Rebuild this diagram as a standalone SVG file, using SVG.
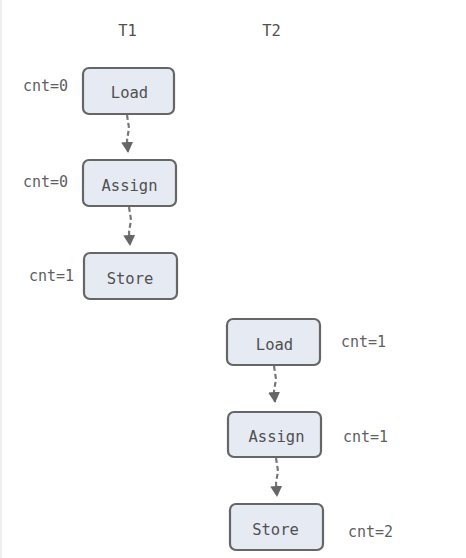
<svg xmlns="http://www.w3.org/2000/svg" width="466" height="558" viewBox="0 0 466 558">
<style>
.box{fill:#e6eaf3;stroke:#666;stroke-width:2.2;filter:url(#sk)}
.lbl{font-family:"DejaVu Sans Mono","Liberation Mono",monospace;font-size:15.5px;fill:#505050}
.cnt{font-family:"DejaVu Sans Mono","Liberation Mono",monospace;font-size:15px;fill:#606060}
.ln{fill:none;stroke:#777;stroke-width:2.2;stroke-dasharray:5 3}
.ah{fill:#666}
</style>
<defs>
<filter id="sk" x="-5%" y="-10%" width="110%" height="120%">
<feTurbulence type="fractalNoise" baseFrequency="0.05" numOctaves="2" seed="3"/>
<feDisplacementMap in="SourceGraphic" scale="1.4" xChannelSelector="R" yChannelSelector="G"/>
</filter>
<marker id="arr" markerWidth="14" markerHeight="14" refX="10" refY="6" orient="auto" markerUnits="userSpaceOnUse">
<path d="M0,0 L11,6 L0,12 Z" class="ah"/>
</marker>
</defs>
<rect x="0" y="0" width="2" height="558" fill="#efefef"/>
<g id="headers">
<text class="lbl" x="127.5" y="36" text-anchor="middle">T1</text>
<text class="lbl" x="271.5" y="36" text-anchor="middle">T2</text>
</g>
<g id="connectors">
<path class="ln" d="M127,115 L129,128 L127,140 L128,152" marker-end="url(#arr)"/>
<path class="ln" d="M129,207 L131,220 L129,232 L130,245" marker-end="url(#arr)"/>
<path class="ln" d="M274,366 L276,379 L274,391 L275,402" marker-end="url(#arr)"/>
<path class="ln" d="M276,458 L278,471 L276,483 L277,496" marker-end="url(#arr)"/>
</g>
<g id="t1-load">
<rect class="box" x="83" y="68" width="91" height="46" rx="6"/>
<text class="lbl" x="129.5" y="98" text-anchor="middle">Load</text>
<text class="cnt" x="23" y="91">cnt=0</text>
</g>
<g id="t1-assign">
<rect class="box" x="83" y="160" width="93" height="46" rx="6"/>
<text class="lbl" x="129.5" y="191" text-anchor="middle">Assign</text>
<text class="cnt" x="23" y="187">cnt=0</text>
</g>
<g id="t1-store">
<rect class="box" x="84" y="253" width="93" height="46" rx="6"/>
<text class="lbl" x="130" y="284" text-anchor="middle">Store</text>
<text class="cnt" x="29" y="281">cnt=1</text>
</g>
<g id="t2-load">
<rect class="box" x="227" y="319" width="93" height="46" rx="6"/>
<text class="lbl" x="274.5" y="350" text-anchor="middle">Load</text>
<text class="cnt" x="341" y="347">cnt=1</text>
</g>
<g id="t2-assign">
<rect class="box" x="228" y="412" width="93" height="45" rx="6"/>
<text class="lbl" x="276.5" y="442" text-anchor="middle">Assign</text>
<text class="cnt" x="343" y="442">cnt=1</text>
</g>
<g id="t2-store">
<rect class="box" x="230" y="504" width="93" height="46" rx="6"/>
<text class="lbl" x="275.5" y="535" text-anchor="middle">Store</text>
<text class="cnt" x="348" y="537">cnt=2</text>
</g>
</svg>
